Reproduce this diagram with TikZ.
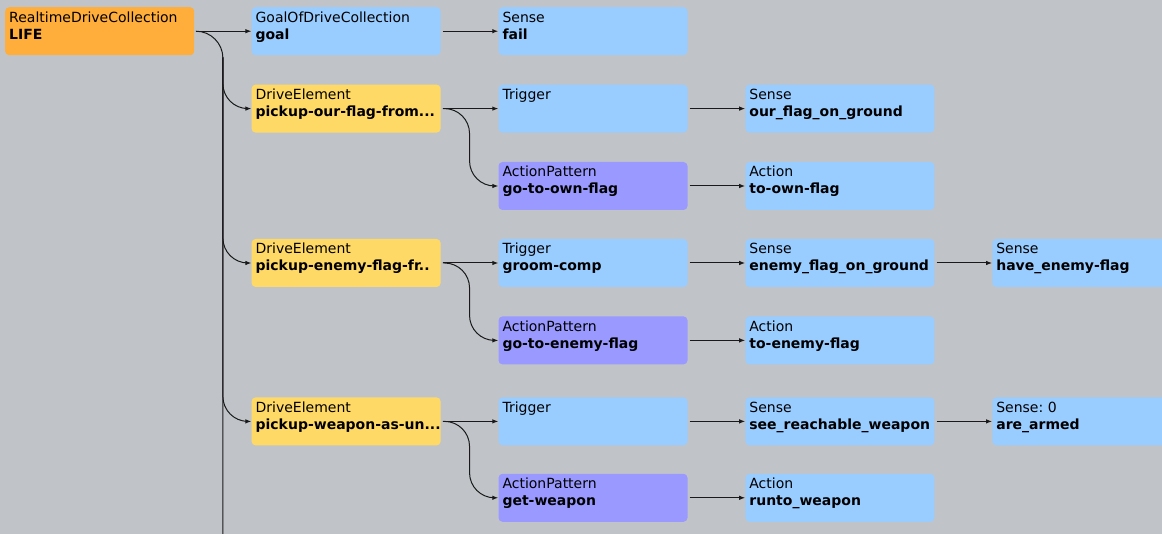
\documentclass[tikz,border=0pt]{standalone}
\usepackage{fontspec}
\setmainfont{DejaVu Sans}
\frenchspacing
\usetikzlibrary{positioning,arrows.meta,calc}
\definecolor{canvas}{RGB}{192,196,200}
\definecolor{collcol}{RGB}{255,173,59}
\definecolor{sensecol}{RGB}{153,204,255}
\definecolor{elemcol}{RGB}{255,217,102}
\definecolor{actcol}{RGB}{153,153,255}
\tikzset{
	plannode/.style = {shape=rectangle, rounded corners=4pt, draw=none,
		anchor=north west, minimum width=189pt, minimum height=48pt,
		inner xsep=4pt, inner ysep=4pt, text width=181pt, align=left,
		text height=11pt, text depth=29pt, font=\fontsize{14}{17}\selectfont},
	coll/.style     = {plannode, fill=collcol},
	sense/.style    = {plannode, fill=sensecol},
	elem/.style     = {plannode, fill=elemcol},
	act/.style      = {plannode, fill=actcol},
	link/.style     = {line width=1pt, draw=black!90, shorten <=2pt},
	linkarrow/.style = {link, -{Latex[length=6pt,width=4.5pt]}},
}
\newcommand{\planlabel}[2]{#1\\\mbox{\textbf{#2}}}

\begin{document}
\begin{tikzpicture}[x=1pt, y=1pt]
	\useasboundingbox (0,0) rectangle (1162,-534);
	\fill[canvas] (0,0) rectangle (1162,-534);
	\coordinate (bottom) at (0,-534);

	\node[coll] (life) at (5,-7) {\planlabel{RealtimeDriveCollection}{LIFE}};
	\node[sense, right=57pt of life] (goal) {\planlabel{GoalOfDriveCollection}{goal}};
	\node[sense, right=57.5pt of goal] (fail) {\planlabel{Sense}{fail}};

	\node[elem, below=29pt of goal] (de1) {\planlabel{DriveElement}{pickup-our-flag-from...}};
	\node[sense, right=57.5pt of de1] (trig1) {\planlabel{Trigger}{}};
	\node[sense, right=57.5pt of trig1] (sense1) {\planlabel{Sense}{our\_flag\_on\_ground}};
	\node[act, below=29pt of trig1] (ap1) {\planlabel{ActionPattern}{go-to-own-flag}};
	\node[sense, right=57.5pt of ap1] (act1) {\planlabel{Action}{to-own-flag}};

	\node[elem, below=106pt of de1] (de2) {\planlabel{DriveElement}{pickup-enemy-flag-fr..}};
	\node[sense, right=57.5pt of de2] (trig2) {\planlabel{Trigger}{groom-comp}};
	\node[sense, right=57.5pt of trig2] (sense2a) {\planlabel{Sense}{enemy\_flag\_on\_ground}};
	\node[sense, right=57.5pt of sense2a] (sense2b) {\planlabel{Sense}{have\_enemy-flag}};
	\node[act, below=29pt of trig2] (ap2) {\planlabel{ActionPattern}{go-to-enemy-flag}};
	\node[sense, right=57.5pt of ap2] (act2) {\planlabel{Action}{to-enemy-flag}};

	\node[elem, below=110pt of de2] (de3) {\planlabel{DriveElement}{pickup-weapon-as-un...}};
	\node[sense, right=57.5pt of de3] (trig3) {\planlabel{Trigger}{}};
	\node[sense, right=57.5pt of trig3] (sense3a) {\planlabel{Sense}{see\_reachable\_weapon}};
	\node[sense, right=57.5pt of sense3a] (sense3b) {\planlabel{Sense: 0}{are\_armed}};
	\node[act, below=28pt of trig3] (ap3) {\planlabel{ActionPattern}{get-weapon}};
	\node[sense, right=57.5pt of ap3] (act3) {\planlabel{Action}{runto\_weapon}};

	\coordinate (trunk) at ($(life.east)!.5!(goal.west)$);
	\draw[link, rounded corners=27pt] (life.east) -| (trunk |- bottom);
	\draw[linkarrow] (life.east) -- (goal.west);
	\draw[linkarrow] (goal.east) -- (fail.west);
	\foreach \d in {de1,de2,de3}
		\draw[linkarrow, rounded corners=25pt] (trunk |- life.south) |- (\d.west);

	\foreach \d/\t/\a in {de1/trig1/ap1, de2/trig2/ap2, de3/trig3/ap3}{
		\draw[linkarrow] (\d.east) -- (\t.west);
		\coordinate (fork) at ($(\d.east)!.5!(\t.west)$);
		\draw[linkarrow, rounded corners=25pt] (\d.east) -| (fork |- \a.west) -- (\a.west);
	}

	\foreach \a/\b in {trig1/sense1, ap1/act1, trig2/sense2a, sense2a/sense2b,
		ap2/act2, trig3/sense3a, sense3a/sense3b, ap3/act3}
		\draw[linkarrow] (\a.east) -- (\b.west);
\end{tikzpicture}
\end{document}
